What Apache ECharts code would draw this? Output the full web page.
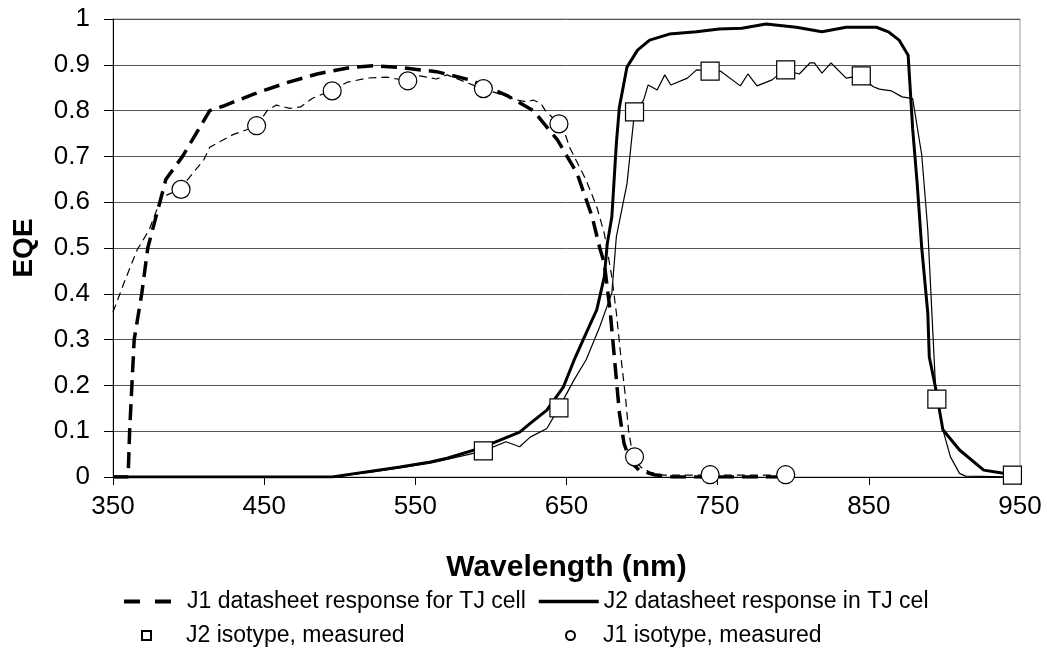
<!DOCTYPE html>
<html>
<head>
<meta charset="utf-8">
<script src="https://cdn.jsdelivr.net/npm/echarts@6/dist/echarts.min.js"></script>
<style>
html,body{margin:0;padding:0;background:#fff;}
#chart{width:1047px;height:649px;}
</style>
</head>
<body>
<div id="chart"></div>
<script>
// Series names
const seriesNames = [
  'J1 datasheet response for TJ cell',
  'J2 datasheet response in TJ cel',
  'J2 isotype, measured',
  'J1 isotype, measured'
];

// J1 datasheet response (thick dashed) [wavelength nm, EQE]
const j1Datasheet = [
  [350,0],[360,0],[361,0.1],[362.5,0.2],[364,0.3],[369,0.4],[373,0.5],[381,0.6],[385,0.65],
  [396,0.7],[414,0.8],[423,0.81],[443,0.836],[465,0.861],[485,0.88],[507,0.894],[522,0.898],
  [540,0.894],[564,0.885],[586,0.867],[610,0.834],[628,0.8],[644,0.736],[657,0.663],[667,0.568],
  [672,0.5],[675,0.467],[679,0.358],[682,0.249],[685,0.14],[688,0.074],[692,0.035],[698,0.015],
  [708,0.005],[720,0],[800,0]
];

// J2 datasheet response (thick solid)
const j2Datasheet = [
  [350,0],[495,0],[513,0.009],[540,0.022],[560,0.033],[571,0.041],[593,0.063],[619,0.098],
  [626,0.117],[637,0.146],[648,0.197],[655,0.255],[663,0.314],[670,0.365],[675,0.437],[677,0.51],
  [680,0.568],[683,0.729],[685,0.808],[690,0.895],[697,0.932],[705,0.954],[718,0.967],[736,0.972],
  [751,0.978],[766,0.98],[782,0.989],[802,0.982],[819,0.972],[835,0.982],[855,0.982],[863,0.972],
  [870,0.954],[876,0.921],[879,0.76],[882,0.64],[885,0.5],[889,0.358],[890,0.262],[894,0.197],
  [899,0.103],[910,0.059],[926,0.015],[939,0.008],[950,0.004]
];

// J1 isotype measured curve (thin dashed)
const j1Measured = [
  [350,0.36],[358,0.43],[366,0.496],[374,0.54],[382,0.61],[394,0.628],[410,0.692],[414,0.72],
  [429,0.747],[445,0.766],[452,0.8],[458,0.812],[467,0.805],[474,0.808],[482,0.827],[494,0.843],
  [505,0.862],[518,0.871],[531,0.873],[545,0.865],[553,0.876],[564,0.869],[571,0.878],[595,0.847],
  [604,0.838],[617,0.823],[624,0.819],[628,0.823],[633,0.816],[636,0.8],[645,0.771],[649,0.75],
  [652,0.72],[663,0.648],[670,0.59],[675,0.532],[680,0.437],[683,0.358],[686,0.262],[689,0.175],
  [691,0.103],[694,0.044],[699,0.022],[705,0.011],[714,0.004],[745,0.004],[795,0.004]
];

// J2 isotype measured curve (thin solid)
const j2Measured = [
  [350,0],[495,0],[520,0.01],[560,0.03],[589,0.052],[595,0.057],[610,0.077],[619,0.066],
  [626,0.087],[637,0.106],[645,0.151],[655,0.212],[663,0.256],[672,0.328],[680,0.402],[683,0.525],
  [690,0.64],[695,0.797],[701,0.823],[704,0.856],[710,0.845],[715,0.878],[719,0.856],[730,0.871],
  [736,0.889],[745,0.887],[752,0.886],[765,0.854],[770,0.88],[776,0.854],[786,0.867],[794,0.889],
  [804,0.88],[811,0.904],[814,0.904],[819,0.882],[825,0.904],[835,0.871],[844,0.876],[853,0.852],
  [857,0.847],[865,0.843],[872,0.83],[879,0.826],[885,0.703],[889,0.54],[894,0.205],[895,0.17],
  [899,0.103],[904,0.044],[910,0.008],[914,0.002],[950,0]
];

// Measured marker points
const j2IsotypePoints = [
  [595,0.057],[645,0.151],[695,0.797],[745,0.886],[795,0.889],[845,0.876],[895,0.17],[945,0.004]
];
const j1IsotypePoints = [
  [395,0.628],[445,0.767],[495,0.843],[545,0.865],[595,0.848],[645,0.771],[695,0.044],[745,0.005],[795,0.005]
];

const font = 'Liberation Sans, Arial, sans-serif';
const chart = echarts.init(document.getElementById('chart'), null, {renderer:'canvas'});

const legendText = {fontFamily: font, fontSize: 23, color: '#000'};

chart.setOption({
  animation: false,
  backgroundColor: '#fff',
  grid: {left: 113, right: 27, top: 19, bottom: 172, show: true, borderColor: '#999', borderWidth: 1},
  legend: [
    {data: [seriesNames[0]], left: 117, top: 585, itemWidth: 47, itemHeight: 14,
     textStyle: Object.assign({padding: [0, 0, 0, 11]}, legendText),
     itemStyle: {opacity: 0}, lineStyle: {width: 4, type: [16, 15]}},
    {data: [seriesNames[1]], left: 532, top: 585, itemWidth: 60, itemHeight: 14,
     textStyle: legendText, itemStyle: {opacity: 0}, lineStyle: {width: 3.5}},
    {data: [seriesNames[2]], left: 136, top: 619, itemWidth: 9, itemHeight: 9,
     textStyle: Object.assign({padding: [0, 0, 0, 30]}, legendText)},
    {data: [seriesNames[3]], left: 560, top: 619, itemWidth: 9, itemHeight: 9,
     textStyle: Object.assign({padding: [0, 0, 0, 23]}, legendText)}
  ],
  xAxis: {
    type: 'value', min: 350, max: 950, interval: 100,
    name: 'Wavelength (nm)', nameLocation: 'middle', nameGap: 76,
    nameTextStyle: {fontFamily: font, fontSize: 30, fontWeight: 'bold', color: '#000'},
    axisLine: {show: true, onZero: false, lineStyle: {color: '#000', width: 1}},
    axisTick: {show: true, inside: false, length: 8, lineStyle: {color: '#000'}},
    axisLabel: {fontFamily: font, fontSize: 26, color: '#000', margin: 17},
    splitLine: {show: false}
  },
  yAxis: {
    type: 'value', min: 0, max: 1, interval: 0.1,
    name: 'EQE', nameLocation: 'middle', nameGap: 75, nameRotate: 90,
    nameTextStyle: {fontFamily: font, fontSize: 28, fontWeight: 'bold', color: '#000'},
    axisLine: {show: true, lineStyle: {color: '#000', width: 1}},
    axisTick: {show: true, inside: false, length: 9, lineStyle: {color: '#000'}},
    axisLabel: {fontFamily: font, fontSize: 26, color: '#000', margin: 23,
      formatter: v => (v === 0 ? '0' : v === 1 ? '1' : v.toFixed(1))},
    splitLine: {show: true, lineStyle: {color: '#555', width: 1}}
  },
  series: [
    {name: seriesNames[3] + ' curve', type: 'line', data: j1Measured, symbol: 'none', z: 2,
     lineStyle: {color: '#000', width: 1.2, type: [8, 5]}},
    {name: seriesNames[2] + ' curve', type: 'line', data: j2Measured, symbol: 'none', z: 2,
     lineStyle: {color: '#000', width: 1.2}},
    {name: seriesNames[0], type: 'line', data: j1Datasheet, symbol: 'none', z: 3,
     itemStyle: {color: '#000'}, lineStyle: {color: '#000', width: 3.5, type: [16, 8]}},
    {name: seriesNames[1], type: 'line', data: j2Datasheet, symbol: 'none', z: 3,
     itemStyle: {color: '#000'}, lineStyle: {color: '#000', width: 3}},
    {name: seriesNames[2], type: 'scatter', data: j2IsotypePoints, symbol: 'rect', symbolSize: 18, z: 5,
     itemStyle: {color: '#fff', borderColor: '#000', borderWidth: 1.2, opacity: 1}},
    {name: seriesNames[3], type: 'scatter', data: j1IsotypePoints, symbol: 'circle', symbolSize: 18, z: 5,
     itemStyle: {color: '#fff', borderColor: '#000', borderWidth: 1.2, opacity: 1}}
  ]
});
</script>
</body>
</html>
